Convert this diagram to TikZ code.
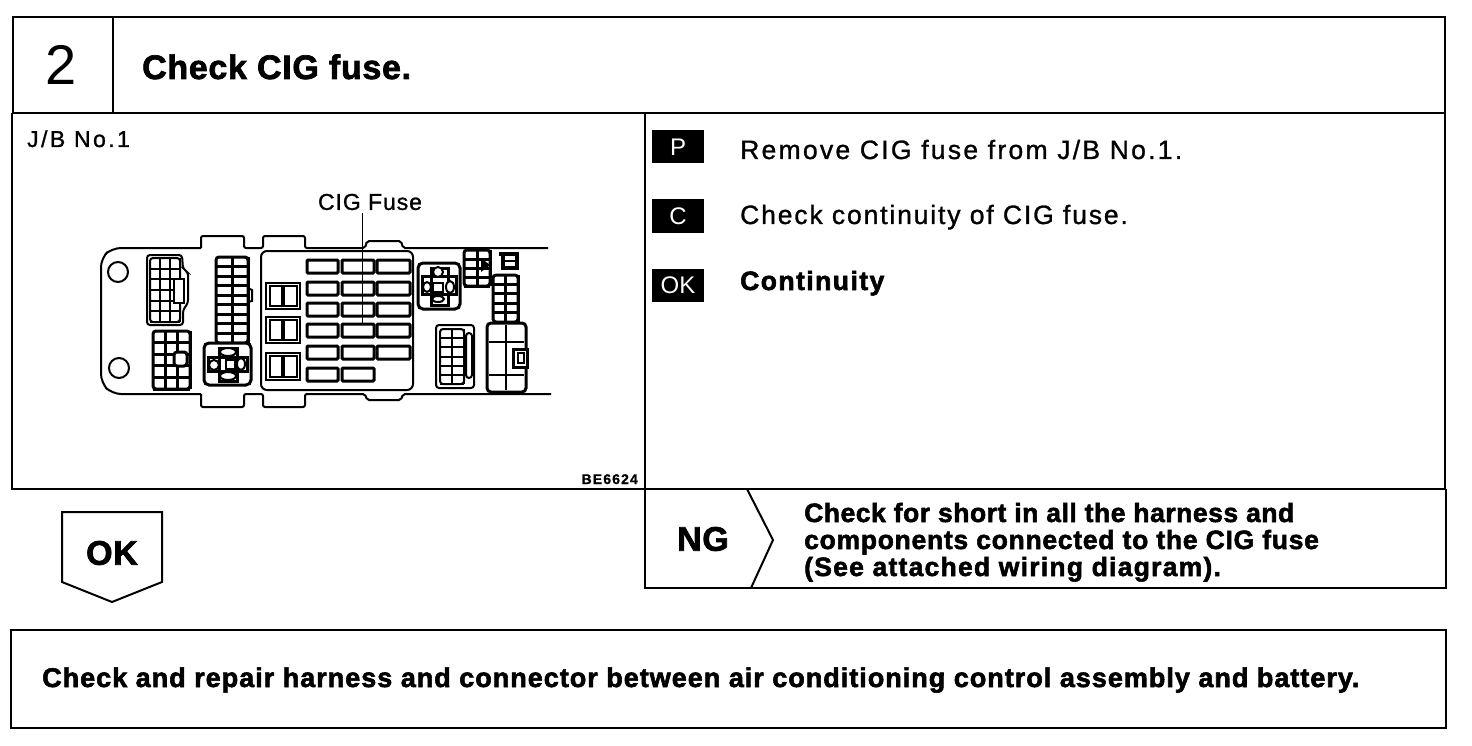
\documentclass[tikz,border=0pt]{standalone}
\usepackage{fontspec}
\setmainfont{Liberation Sans}
\newfontfamily\plainface[LetterSpace=8,FakeBold=1.1]{Liberation Sans}
\newfontfamily\boldface[LetterSpace=2,FakeBold=2]{Liberation Sans}
\newfontfamily\wideface[LetterSpace=3.7,FakeBold=2.2]{Liberation Sans}
\usetikzlibrary{calc}
\tikzset{
  frameline/.style={line width=2pt},
  partline/.style={line width=2pt},
  heavyline/.style={line width=3pt},
  boldtext/.style={anchor=base west,inner sep=0pt,font=\boldface\bfseries\fontsize{26.5}{27}\selectfont},
  widetext/.style={anchor=base west,inner sep=0pt,font=\wideface\bfseries\fontsize{27}{28}\selectfont},
  plaintext/.style={anchor=base west,inner sep=0pt,font=\plainface\fontsize{26.5}{27}\selectfont},
  labeltext/.style={inner sep=0pt,font=\plainface\fontsize{23}{25}\selectfont},
  bigtext/.style={font=\boldface\bfseries\fontsize{34}{36}\selectfont},
  tagbox/.style={fill=black,text=white,minimum width=52pt,minimum height=33pt,inner sep=0pt,font=\fontsize{24}{25}\selectfont}
}
% #2 corner, #3 corner, #4 columns, #5 rows
\newcommand{\plug}[5][partline]{
  \draw[#1,rounded corners=3pt] (#2) rectangle (#3);
  \path (#2) coordinate (pa) (#3) coordinate (pb);
  \foreach \k in {1,...,#4}
    \draw[#1] ($(pa)!{\k/#4}!(pa-|pb)$) -- ($(pa|-pb)!{\k/#4}!(pb)$);
  \foreach \k in {1,...,#5}
    \draw[#1] ($(pa)!{\k/#5}!(pa|-pb)$) -- ($(pa-|pb)!{\k/#5}!(pb)$);
}
\begin{document}
\begin{tikzpicture}[x=1pt,y=-1pt]
\useasboundingbox (0,0) rectangle (1472,746);
\draw[frameline] (13,17) rectangle (1445,113);
\draw[frameline] (113,17) -- (113,113);
\draw[frameline] (12,113) -- (12,489) -- (1445,489) -- (1445,113);
\draw[frameline] (645,113) -- (645,588) -- (1446,588) -- (1446,489);
\draw[frameline] (11,630) rectangle (1446,728);

\node (stepno) at (61,65) {\fontsize{56}{58}\selectfont 2};
\node[boldtext,font=\boldface\bfseries\fontsize{34}{36}\selectfont] (title) at (142,79) {Check CIG fuse.};

\node[labeltext,anchor=base west,font=\plainface\addfontfeature{LetterSpace=10.5}\fontsize{23}{25}\selectfont] (jb) at (27,147) {J/B No.1};
\node[labeltext,font=\plainface\addfontfeature{LetterSpace=4}\fontsize{23}{25}\selectfont] (fuselabel) at (370,202) {CIG Fuse};
\node[anchor=base east,inner sep=0pt,font=\plainface\bfseries\fontsize{14}{15}\selectfont] (code) at (638,484) {BE6624};

\node[tagbox] (tagp) at (678,147) {P};
\node[tagbox] (tagc) at (678,216) {C};
\node[tagbox] (tagok) at (678,285) {OK};
\node[plaintext,font=\plainface\addfontfeature{LetterSpace=8.6}\fontsize{26.5}{27}\selectfont] (remove) at (740,159) {Remove CIG fuse from J/B No.1.};
\node[plaintext,font=\plainface\addfontfeature{LetterSpace=7}\fontsize{26.5}{27}\selectfont] (check) at (740,224) {Check continuity of CIG fuse.};
\node[widetext,font=\wideface\addfontfeature{LetterSpace=5.5}\bfseries\fontsize{26.5}{27}\selectfont] (cont) at (740,290) {Continuity};

% junction block outline
\draw[partline,rounded corners=9pt] (201,248) -- (112,248) -- (101,258) -- (101,383) -- (112,394) -- (201,394);
\draw[partline,rounded corners=2pt] (201,248) -- (201,236) -- (244,236) -- (244,248) -- (263,248) -- (263,236) -- (305,236) -- (305,248)
  -- (365,248) -- (367,241) -- (401,241) -- (403,248) -- (548,248);
\draw[partline,rounded corners=2pt] (201,394) -- (201,407) -- (244,407) -- (244,394) -- (263,394) -- (263,407) -- (305,407) -- (305,394)
  -- (365,394) -- (367,400) -- (401,400) -- (403,394) -- (551,394);
\draw[partline] (118,272) circle (10);
\draw[partline] (119,368) circle (10);

% left plugs
\draw[partline,rounded corners=3pt] (147,255) -- (182,255) -- (183,269) -- (188,272) -- (188,303) -- (183,310) -- (183,325) -- (147,325) -- cycle;
\plug{150,258}{180,322}{3}{6}
\draw[partline,fill=white] (174,279) rectangle (184,303);
\plug[heavyline]{216,257}{248,343}{2}{9}
\draw[partline] (248,288) -- (252,290) -- (252,301) -- (248,302);
\plug[heavyline]{153,331}{190,389}{3}{5}
\draw[heavyline,rounded corners=3pt,fill=white] (174,352) rectangle (187,366);
\draw[heavyline,rounded corners=5pt,fill=white] (204,343) rectangle (251,385);
\draw[heavyline] (219,348) rectangle (237,381);
\draw[heavyline] (208,357) rectangle (247,371);
\draw[partline,fill=white] (228,352) ellipse (8 and 4);
\draw[partline,fill=white] (228,376) ellipse (8 and 4);
\draw[partline,fill=white] (214,365) ellipse (5 and 5);
\draw[partline,fill=white] (241,364) ellipse (4 and 6);
\draw[partline,fill=white] (226,360) rectangle (235,369);

% fuse box
\draw[partline,rounded corners=6pt] (261,251) rectangle (413,390);
\foreach \ya/\yb in {283/309,317/343,353/380}{
  \draw[partline] (266,\ya) rectangle (300,\yb);
  \draw[partline] (270,\ya+3) rectangle (282,\yb-3);
  \draw[partline] (284,\ya+3) rectangle (297,\yb-3);
}
\foreach \ya in {260,282,303,324,346,368}{
  \draw[heavyline,rounded corners=1pt] (307,\ya) rectangle (338,\ya+13);
  \draw[heavyline,rounded corners=1pt] (342,\ya) rectangle (374,\ya+13);
}
\foreach \ya in {260,282,303,324,346}
  \draw[heavyline,rounded corners=1pt] (377,\ya) rectangle (410,\ya+13);
\coordinate (fusepoint) at (362,324);
\draw[line width=1pt] (fuselabel.south-|fusepoint) ++(0,3) -- (fusepoint);

% right hand plugs
\draw[heavyline,rounded corners=5pt] (418,263) rectangle (460,309);
\draw[heavyline] (431,268) rectangle (448,305);
\draw[heavyline] (422,276) rectangle (456,294);
\draw[partline,fill=white] (438,272) ellipse (5 and 5);
\draw[partline,fill=white] (438,299) ellipse (6 and 3);
\draw[partline,fill=white] (427,287) ellipse (4 and 5);
\draw[partline,fill=white] (450,287) ellipse (4 and 6);
\draw[partline,fill=white] (433,283) rectangle (443,292);
\plug[heavyline]{464,250}{490,286}{2}{4}
\fill (481,258) -- (490,265) -- (481,272) -- cycle;
\draw[heavyline,line width=4pt] (499,254) -- (517,254) -- (517,268) -- (503,268) -- (503,254);
\draw[partline] (503,261) -- (517,261);
\plug[heavyline]{493,275}{518,322}{2}{5}
\draw[partline,rounded corners=3pt] (436,325) rectangle (474,388);
\plug{440,329}{464,384}{2}{6}
\draw[partline,rounded corners=3pt] (466,333) rectangle (472,378);
\draw[heavyline,rounded corners=4pt] (487,323) rectangle (526,392);
\draw[partline] (506,325) -- (506,390);
\draw[partline] (489,342) -- (524,342);
\draw[partline] (489,375) -- (524,375);
\draw[heavyline,fill=white] (513,349) rectangle (527,367);
\draw[partline] (518,353) rectangle (524,363);

% result row
\draw[frameline] (62,512) -- (162,512) -- (162,582) -- (112,602) -- (62,582) -- cycle;
\node[bigtext] (okmark) at (112,553) {OK};
\node[bigtext] (ngmark) at (703,539) {NG};
\draw[partline] (747,489) -- (773,540) -- (751,588);
\node[boldtext] (ngone) at (804,522) {Check for short in all the harness and};
\node[boldtext,font=\boldface\addfontfeature{LetterSpace=2.7}\bfseries\fontsize{26.5}{27}\selectfont] (ngtwo) at (804,549) {components connected to the CIG fuse};
\node[boldtext,font=\boldface\addfontfeature{LetterSpace=4.7}\bfseries\fontsize{26.5}{27}\selectfont] (ngthree) at (804,576) {(See attached wiring diagram).};
\node[widetext] (repair) at (42,687) {Check and repair harness and connector between air conditioning control assembly and battery.};
\end{tikzpicture}
\end{document}
